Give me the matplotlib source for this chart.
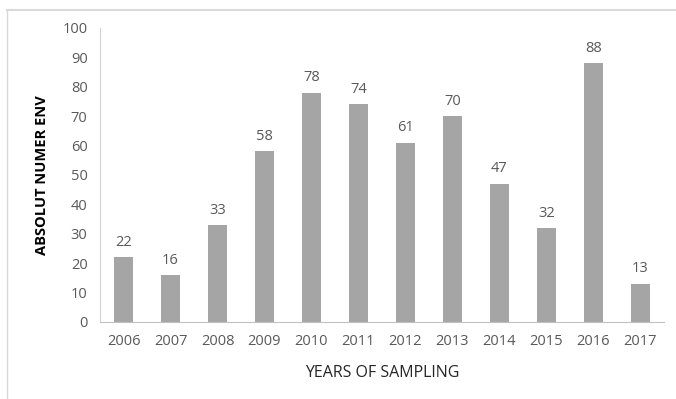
import matplotlib
matplotlib.use("Agg")
import matplotlib.pyplot as plt
from matplotlib.lines import Line2D

years = ["2006", "2007", "2008", "2009", "2010", "2011", "2012", "2013", "2014", "2015", "2016", "2017"]
values = [22, 16, 33, 58, 78, 74, 61, 70, 47, 32, 88, 13]
y_ticks = [0, 10, 20, 30, 40, 50, 60, 70, 80, 90, 100]

plt.rcParams['font.family'] = ['Open Sans', 'DejaVu Sans']
txt = '#595959'

fig = plt.figure(figsize=(6.76, 3.99), dpi=100)
ax = fig.add_axes([0.148, 0.193, 0.834, 0.737])
x = list(range(len(years)))
bars = ax.bar(x, values, width=0.39, color='#a5a5a5')
for xi, v in zip(x, values):
    ax.text(xi, v + 2.5, str(v), ha='center', va='bottom', fontsize=10.5, color=txt)

ax.set_xlim(-0.5, len(years) - 0.5)
ax.set_ylim(0, 100)
ax.set_yticks(y_ticks)
ax.set_xticks(x)
ax.set_xticklabels(years)
ax.tick_params(axis='both', length=0, labelsize=10.5, colors=txt, pad=9)
for s in ['top', 'right']:
    ax.spines[s].set_visible(False)
ax.spines['left'].set_color('#d0d0d0')
ax.spines['bottom'].set_color('#c0c0c0')
ax.set_xlabel('YEARS OF SAMPLING', fontsize=11.5, color='#262626', labelpad=11)
ax.set_ylabel('ABSOLUT NUMER ENV', fontsize=10.5, fontweight='bold', color='#000000', labelpad=10)

fig.add_artist(Line2D([7/676, 1.0], [1 - 10/399, 1 - 10/399], transform=fig.transFigure, color='#d9d9d9', lw=1.5))
fig.add_artist(Line2D([7/676, 7/676], [0, 1 - 10/399], transform=fig.transFigure, color='#d9d9d9', lw=1.0))

fig.savefig('out.png', dpi=100)
